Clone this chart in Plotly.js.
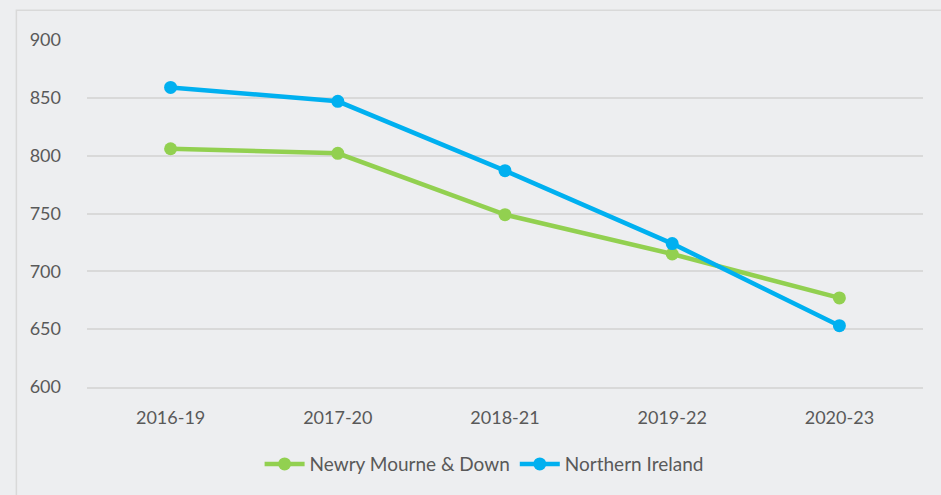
<!DOCTYPE html>
<html>
<head>
<meta charset="utf-8">
<script src="https://cdn.plot.ly/plotly-3.0.1.min.js"></script>
<style>html,body{margin:0;padding:0;background:#EDEEF0;}#chart{width:941px;height:495px;}</style>
</head>
<body>
<div id="chart"></div>
<script>
const categories = ["2016-19", "2017-20", "2018-21", "2019-22", "2020-23"];
const newryMourneDown = [806, 802, 749, 715, 677];
const northernIreland = [859, 847, 787, 724, 653];
const yTicks = [600, 650, 700, 750, 800, 850, 900];

const traces = [
  {
    x: categories, y: newryMourneDown, name: "Newry Mourne & Down",
    type: "scatter", mode: "lines+markers",
    line: {color: "#92D050", width: 4.5},
    marker: {color: "#92D050", size: 13}
  },
  {
    x: categories, y: northernIreland, name: "Northern Ireland",
    type: "scatter", mode: "lines+markers",
    line: {color: "#00B0F0", width: 4.5},
    marker: {color: "#00B0F0", size: 13}
  }
];

const layout = {
  width: 941, height: 495,
  paper_bgcolor: "#EDEEF0", plot_bgcolor: "#EDEEF0",
  margin: {l: 87, r: 18, t: 40, b: 108},
  font: {family: "Lato, Open Sans, sans-serif", size: 18, color: "#595959"},
  showlegend: true,
  legend: {
    orientation: "h", x: 0.475, xanchor: "center", y: -0.222, yanchor: "middle",
    font: {size: 19, color: "#595959"}, itemwidth: 40, traceorder: "normal"
  },
  xaxis: {
    type: "category", range: [-0.5, 4.5], showgrid: false, zeroline: false,
    showline: true, linecolor: "#D9D9D9", linewidth: 2,
    ticks: "", tickfont: {size: 18, color: "#595959"}, ticklabelstandoff: 13
  },
  yaxis: {
    range: [600, 900], tickvals: yTicks, showgrid: true, gridcolor: "#D9D9D9", gridwidth: 2,
    zeroline: false, showline: false, ticks: "", tickfont: {size: 18, color: "#595959"},
    ticklabelstandoff: 25, fixedrange: true
  },
  shapes: [
    {type: "rect", xref: "paper", yref: "paper",
     x0: -0.0845, x1: 1.05, y0: -0.35, y1: 1.086,
     line: {color: "#D9D9D9", width: 1.5}, fillcolor: "rgba(0,0,0,0)", layer: "below"}
  ]
};

Plotly.newPlot("chart", traces, layout, {displayModeBar: false, staticPlot: true});
</script>
</body>
</html>
